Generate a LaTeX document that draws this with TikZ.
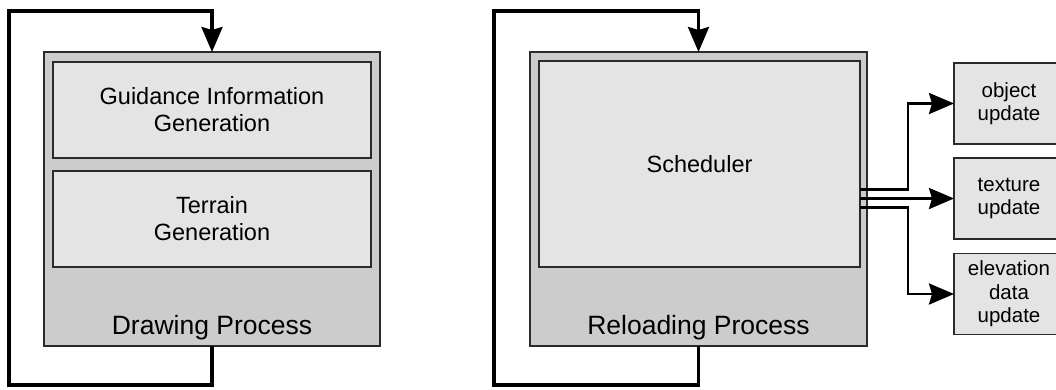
\documentclass[tikz,border=0pt]{standalone}
\usepackage{fontspec}
\setmainfont{Liberation Sans}
\usetikzlibrary{arrows.meta,calc}
\definecolor{outerfill}{HTML}{CCCCCC}
\definecolor{innerfill}{HTML}{E4E4E4}
\definecolor{edge}{HTML}{2A2A2A}
\begin{document}
\begin{tikzpicture}[x=1pt,y=-1pt,
  outerbox/.style={draw=edge,fill=outerfill,line width=1.8pt,inner sep=0pt,outer sep=0pt},
  innerbox/.style={draw=edge,fill=innerfill,line width=1.8pt,inner sep=0pt,outer sep=0pt,align=center,
    font=\fontsize{23.5}{27}\selectfont},
  smallbox/.style={draw=edge,fill=innerfill,line width=1.8pt,inner sep=0pt,outer sep=0pt,align=center,
    minimum width=110pt,minimum height=81pt,font=\fontsize{20.5}{23.5}\selectfont},
  proclabel/.style={font=\fontsize{26.5}{30}\selectfont,inner sep=0pt},
  flow/.style={line width=3.2pt,-{Stealth[length=25pt,width=21pt,inset=3pt]}},
  feed/.style={line width=2.8pt,-{Stealth[length=25pt,width=21pt,inset=3pt]}}]
\useasboundingbox (0,0) rectangle (1056,389);
% Drawing process
\node[outerbox,minimum width=336pt,minimum height=294pt] (drawp) at (212,199) {};
\node[innerbox,minimum width=318pt,minimum height=96pt] (guid) at (212,110) {Guidance Information\\Generation};
\node[innerbox,minimum width=318pt,minimum height=96pt] (terr) at (212,219) {Terrain\\Generation};
\node[proclabel] (drawlbl) at (212,328) {Drawing Process};
% Reloading process
\node[outerbox,minimum width=337pt,minimum height=294pt] (relp) at (698.5,199) {};
\node[innerbox,minimum width=321pt,minimum height=206pt] (sched) at (699.5,164) {Scheduler};
\node[proclabel] (rellbl) at (698.5,328) {Reloading Process};
% update boxes
\node[smallbox] (obj) at (1009,103.5) {object\\update};
\node[smallbox] (tex) at (1009,198.5) {texture\\update};
\node[smallbox] (elev) at (1009,294) {elevation\\data\\update};
% loops
\draw[flow] (drawp.south) -- (212,385) -| (9,11) -| (drawp.north);
\draw[flow] (relp.south) -- (698.5,385) -| (494,11) -| (relp.north);
% scheduler outputs
\coordinate (mid) at (sched.east |- tex.west);
\draw[feed] ([yshift=9pt]mid) -| ($(obj.west)+(-46,0)$) -- (obj.west);
\draw[feed] (mid) -- (tex.west);
\draw[feed] ([yshift=-9pt]mid) -| ($(elev.west)+(-46,0)$) -- (elev.west);
\end{tikzpicture}
\end{document}
